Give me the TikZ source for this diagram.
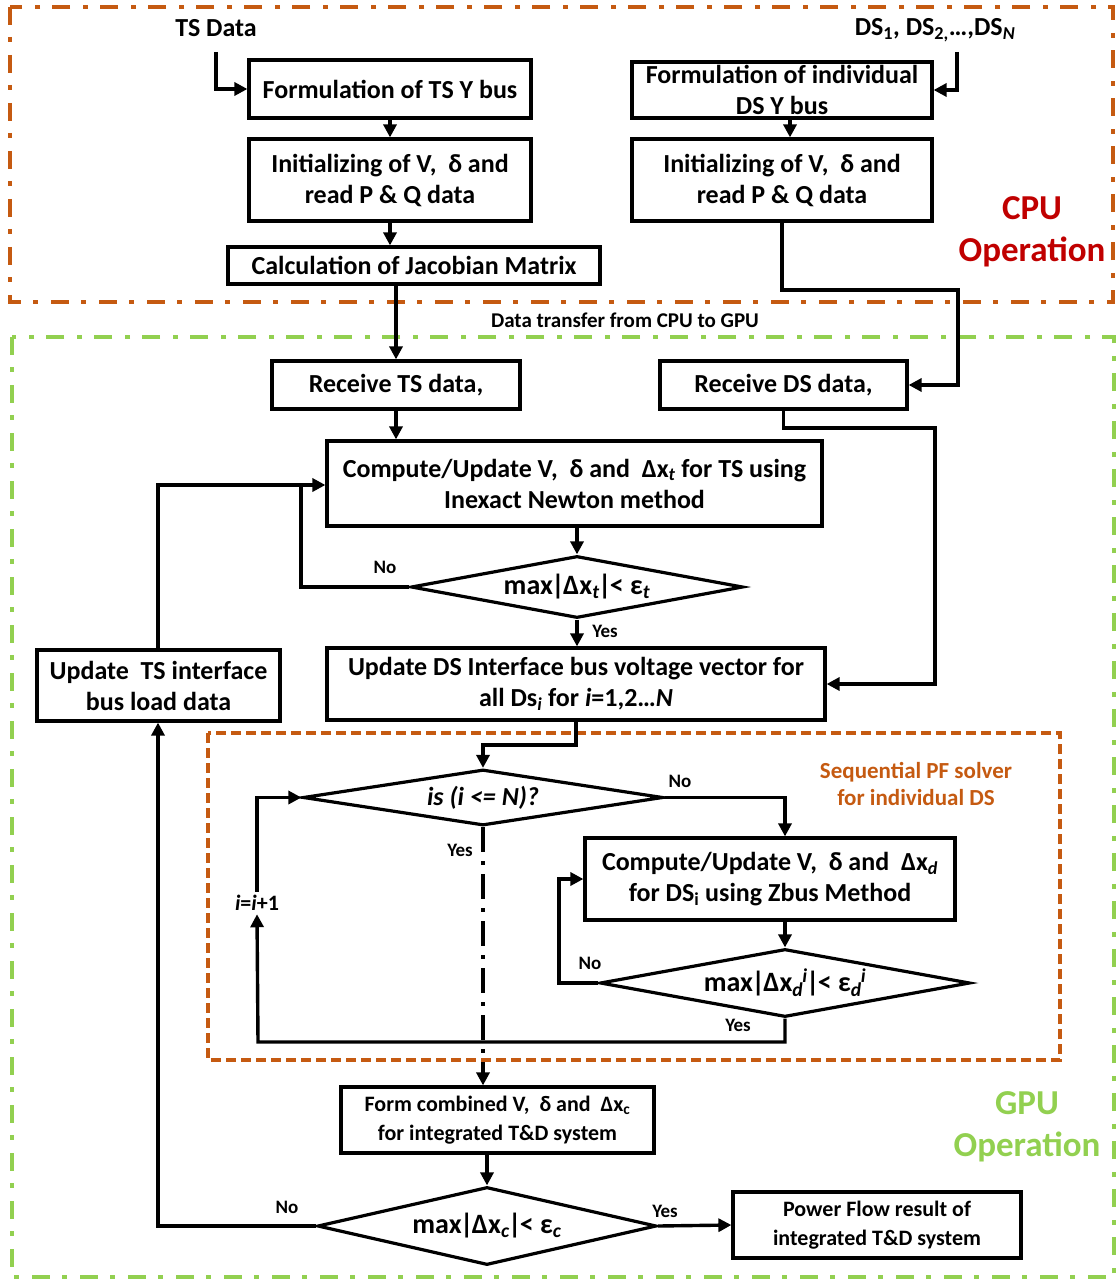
\documentclass[tikz,border=0pt]{standalone}
\usepackage{fontspec}
\setmainfont{Carlito}
\usetikzlibrary{arrows.meta,shapes.geometric}

\definecolor{cpuorange}{HTML}{C55A11}
\definecolor{cpured}{HTML}{C00000}
\definecolor{gpugreen}{HTML}{92D050}

% italic subscript / superscript, and a tight vertical bar
\newcommand{\tsub}[1]{\textsubscript{\itshape #1}}
\newcommand{\tsup}[1]{\textsuperscript{\itshape #1}}
\newcommand{\vb}{\kern-1.5pt|\kern-1.5pt}

\begin{document}
\begin{tikzpicture}[x=1pt,y=-1pt,
  every node/.style={font=\fontsize{26}{31}\selectfont\bfseries},
  box/.style={draw,line width=3.2pt,inner sep=0pt,align=center},
  decision/.style={diamond,draw,line width=3.2pt,inner sep=0pt,align=center,font=\fontsize{28}{30}\selectfont\bfseries},
  conn/.style={line width=3.4pt},
  arr/.style={line width=3.4pt,-{Triangle[length=13pt,width=13pt]}},
  lbl/.style={font=\fontsize{19}{21}\selectfont\bfseries},
  region/.style={line width=4.5pt,dash pattern=on 18pt off 12pt on 5pt off 13pt}
]
\useasboundingbox (0,0) rectangle (1118,1281);

% operation regions
\draw[region,cpuorange] (10,7) rectangle (1113,302);
\draw[region,gpugreen] (12,337) rectangle (1114,1277);
\draw[cpuorange,line width=4pt,dash pattern=on 10pt off 5pt] (208,733) rectangle (1060,1060);

% region titles
\node[font=\fontsize{35}{42}\selectfont\bfseries,text=cpured,align=center] (cpu) at (1032,232) {CPU\\Operation};
\node[font=\fontsize{35}{42}\selectfont\bfseries,text=gpugreen,align=center] (gpu) at (1027,1127) {GPU\\Operation};
\node[font=\fontsize{23}{27}\selectfont\bfseries,text=cpuorange,align=center] (seq) at (916,784) {Sequential PF solver\\for individual DS};
\node[font=\fontsize{21}{24}\selectfont\bfseries] (xfer) at (625,320) {Data transfer from CPU to GPU};

% inputs
\node (tsd) at (216,28) {TS Data};
\node (dsd) at (935,30) {DS\textsubscript{1}, DS\textsubscript{2,}…,DS\tsub{N}};
\coordinate (tsin) at (216,52);
\coordinate (dsin) at (957,52);

% CPU blocks
\node[box,minimum width=282pt,minimum height=58pt] (fts) at (390,89) {Formulation of TS Y bus};
\node[box,minimum width=282pt,minimum height=82pt] (its) at (390,180) {Initializing of V,\ \ δ and\\read P \& Q data};
\node[box,minimum width=372pt,minimum height=37pt] (jac) at (414,265.5) {Calculation of Jacobian Matrix};
\node[box,minimum width=300pt,minimum height=56pt] (fds) at (782,90) {Formulation of individual\\DS Y bus};
\node[box,minimum width=300pt,minimum height=82pt] (ids) at (782,180) {Initializing of V,\ \ δ and\\read P \& Q data};

% GPU blocks
\node[box,minimum width=248pt,minimum height=48pt] (rts) at (396,385) {Receive TS data,};
\node[box,minimum width=247pt,minimum height=48pt] (rds) at (783.5,385) {Receive DS data,};
\node[box,minimum width=495pt,minimum height=85pt] (cts) at (574.5,483.5) {Compute/Update V,\ \ δ and\ \ Δx\tsub{t} for TS using\\Inexact Newton method};
\node[decision,minimum width=332pt,minimum height=62pt,aspect=5.35] (d1) at (577,587) {max\vb Δx\tsub{t}\vb< ε\tsub{t}};
\node[box,minimum width=498pt,minimum height=72pt] (uds) at (576,684) {Update DS Interface bus voltage vector for\\all Ds\tsub{i} for \textit{i}=1,2…\textit{N}};
\node[box,minimum width=243pt,minimum height=71pt] (uts) at (158.5,685.5) {Update\ \ TS interface\\bus load data};

% sequential distribution-system solver
\node[decision,minimum width=360pt,minimum height=56pt,aspect=6.4,font=\fontsize{26}{28}\selectfont\bfseries\itshape] (d2) at (483,797.5) {is (i <= N)?};
\node[box,minimum width=370pt,minimum height=82pt] (cds) at (770,879) {Compute/Update V,\ \ δ and\ \ Δx\tsub{d}\\for DS\textsubscript{i} using Zbus Method};
\node[decision,minimum width=370pt,minimum height=68pt,aspect=5.45] (d3) at (785,983) {max\vb Δx\tsub{d}\kern-1pt\tsup{i}\vb< ε\tsub{d}\kern-1pt\tsup{i}};
\node[font=\fontsize{22}{24}\selectfont\bfseries] (inc) at (257,903) {\textit{i}=\textit{i}+1};

% combination and convergence check
\node[box,minimum width=313pt,minimum height=66pt,font=\fontsize{22}{29}\selectfont\bfseries] (form) at (497.5,1120) {Form combined V,\ \ δ and\ \ Δx\textsubscript{c}\\for integrated T\&D system};
\node[decision,minimum width=339pt,minimum height=78pt,aspect=4.35] (d4) at (487,1226) {max\vb Δx\tsub{c}\vb< ε\tsub{c}};
\node[box,minimum width=288pt,minimum height=66pt,font=\fontsize{22}{29}\selectfont\bfseries] (pf) at (877,1225) {Power Flow result of\\integrated T\&D system};

% branch labels
\node[lbl] (no1) at (385,567) {No};
\node[lbl] (yes1) at (605,631) {Yes};
\node[lbl] (no2) at (680,781) {No};
\node[lbl] (yes2) at (460,850) {Yes};
\node[lbl] (no3) at (590,963) {No};
\node[lbl] (yes3) at (738,1025) {Yes};
\node[lbl] (no4) at (287,1207) {No};
\node[lbl] (yes4) at (665,1211) {Yes};

% routing points
\coordinate (c1) at (958,290);
\coordinate (c2) at (935,428);
\coordinate (c3) at (483,745);
\coordinate (c4) at (301,485);
\coordinate (c6) at (559,879);
\coordinate (c7) at (258,1042);

% CPU connectors
\draw[arr] (tsin) |- (fts.west);
\draw[arr] (dsin) |- (fds.east);
\draw[arr] (fts.south) -- (its.north);
\draw[arr] (its.south) -- (its.south |- jac.north);
\draw[arr] (fds.south -| 790,0) -- (ids.north -| 790,0);
\draw[arr] (rts.north |- jac.south) -- (rts.north);
\draw[arr] (ids.south) |- (c1) |- (rds.east);

% GPU connectors
\draw[arr] (rts.south) -- (rts.south |- cts.north);
\draw[arr] (rds.south) |- (c2) |- (uds.east);
\draw[arr] (cts.south -| d1.north) -- (d1.north);
\draw[arr] (d1.west) -| (c4) -- (c4 -| cts.west);
\draw[conn] (uts.north -| 158,0) |- (c4);
\draw[arr] (d1.south) -- (d1.south |- uds.north);
\draw[arr] (uds.south) |- (c3) -- (d2.north);
\draw[arr] (d2.east) -| (cds.north -| d3.north);
\draw[arr] (cds.south -| d3.north) -- (d3.north);
\draw[arr] (d3.west) -| (c6) -- (cds.west);
\draw[arr] (d3.south) |- (c7) -- (inc.south);
\draw[arr] (inc.north) |- (d2.west);
\draw[arr,dash pattern=on 25pt off 9pt on 4pt off 9pt] (d2.south) -- (d2.south |- form.north);
\draw[arr] (form.south -| d4.north) -- (d4.north);
\draw[arr] (d4.west) -| (uts.south -| 158,0);
\draw[arr] (d4.east) -- (pf.west);
\end{tikzpicture}
\end{document}
